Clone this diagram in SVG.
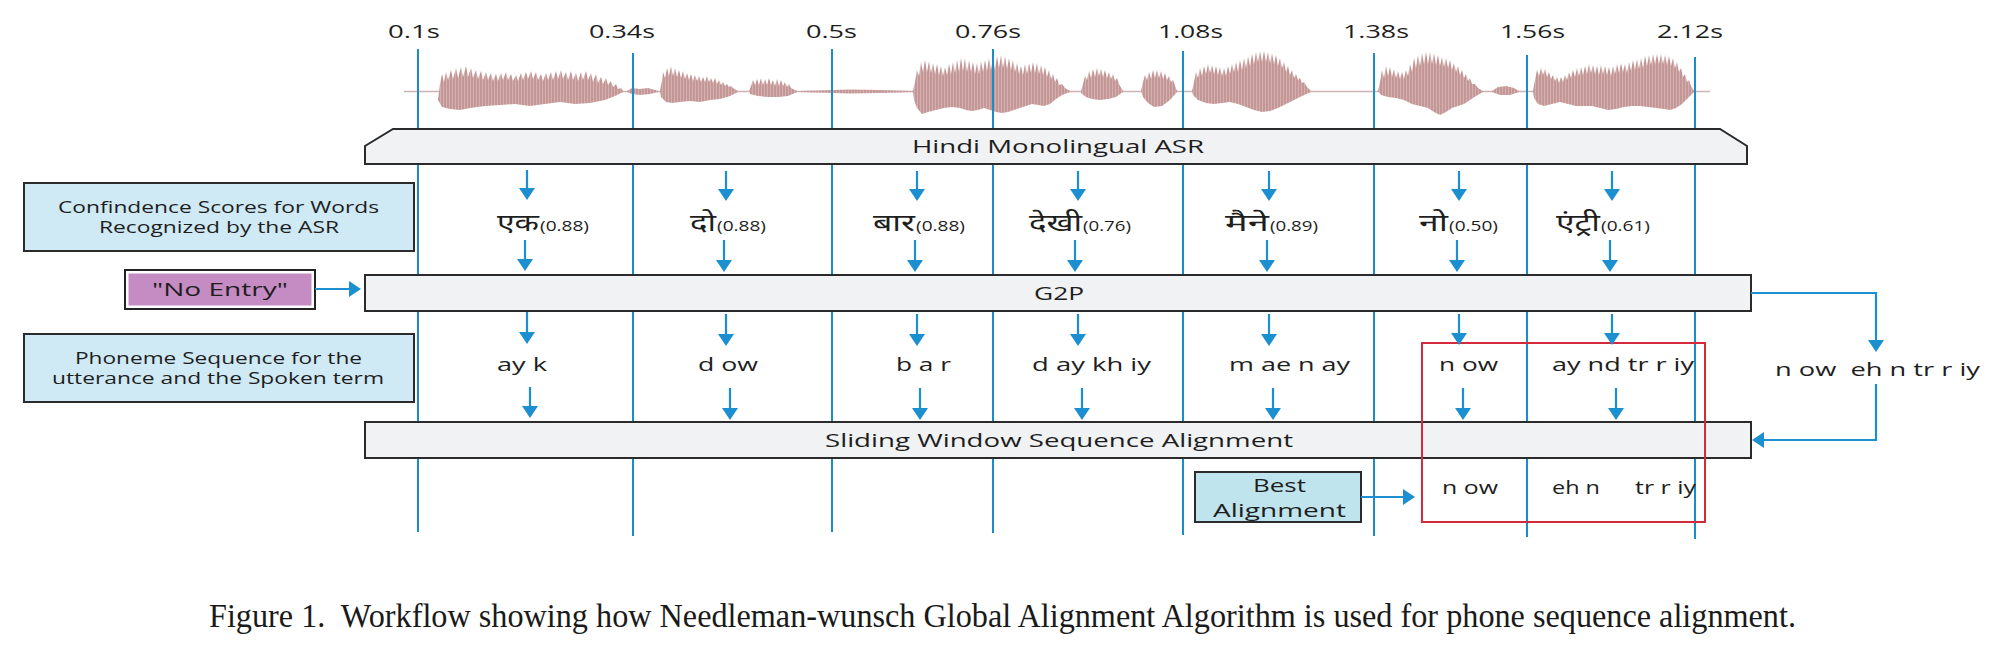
<svg xmlns="http://www.w3.org/2000/svg" width="2002" height="654" viewBox="0 0 2002 654">
<style>
.t{font-family:"Open Sans","Noto Sans",sans-serif;fill:#1e1e1e;}
.dv{font-family:"Noto Sans Devanagari","Noto Sans","Lohit Devanagari",sans-serif;fill:#1e1e1e;font-size:24px;}
.sc{font-size:14px;}
.ph{font-size:19px;}
.tm{font-size:19px;}
.vl{stroke:#1a8cc8;stroke-width:2;fill:none;}
.ar{stroke:#1b8fd0;stroke-width:2.2;fill:none;marker-end:url(#ah);}
.bar{fill:#f1f2f4;stroke:#2b2b2b;stroke-width:2;}
.lb{fill:#cfe9f5;stroke:#2b2b2b;stroke-width:2;}
.wv{fill:url(#wstripe);}
.cap{font-family:"Liberation Serif","Times New Roman",serif;font-size:33px;fill:#1a1a1a;}
</style>
<defs>
<marker id="ah" viewBox="0 0 12 16" refX="2" refY="8" markerWidth="12" markerHeight="16" markerUnits="userSpaceOnUse" orient="auto">
<path d="M0,0 L12,8 L0,16 z" fill="#1b8fd0"/>
</marker>
<pattern id="wstripe" x="0" y="0" width="3" height="10" patternUnits="userSpaceOnUse">
<rect width="3" height="10" fill="#c49696"/>
<rect x="2" width="1" height="10" fill="#d3b1b1"/>
</pattern>
</defs>
<rect width="2002" height="654" fill="#ffffff"/>

<g id="waveform">
<line x1="404" y1="91.5" x2="1710" y2="91.5" stroke="#cdb3b3" stroke-width="1.5"/>
<path class="wv" d="M440,84 442,74 444,82 446,72 448,80 451,70 453,79 456,68 458,78 461,67 463,77 466,66 468,77 471,68 473,78 476,70 478,79 481,71 483,80 486,72 488,80 491,73 493,81 496,74 498,81 501,73 503,80 506,72 508,80 511,74 513,81 516,75 518,81 521,73 523,80 526,72 528,79 531,71 533,79 536,72 538,80 541,74 543,81 546,73 548,80 551,72 553,80 556,71 558,79 561,70 563,79 566,72 568,80 571,71 573,80 576,73 578,81 581,72 583,80 586,71 588,80 591,73 593,82 596,74 598,83 601,77 603,84 606,78 608,85 611,81 613,87 616,84 618,89 621,88 623,91 L623,92 615,96 605,100 590,103 575,104 560,102 545,104 530,106 515,104 500,105 485,106 470,108 460,110 450,109 442,107 438,100 z"/>
<path class="wv" d="M627,91 L632,88 640,89 648,88 655,90 658,91 L658,92 650,94 640,95 632,94 627,92 z"/>
<path class="wv" d="M660,91 662,80 663,72 665,78 667,68 669,76 671,66 673,76 675,68 677,77 679,70 681,78 683,71 685,79 687,73 689,80 691,74 693,81 695,75 697,81 699,76 701,82 703,77 705,82 707,76 709,82 711,78 713,83 715,78 717,84 719,80 721,85 723,82 725,86 727,84 729,87 731,86 733,88 738,91 L738,92 730,96 720,99 710,100 700,102 690,101 680,102 672,103 666,102 661,97 z"/>
<path class="wv" d="M749,91 751,86 753,80 755,85 757,79 759,85 761,78 763,85 765,79 767,85 769,78 771,85 773,80 775,86 777,79 779,86 781,80 783,86 785,82 787,87 789,84 791,88 797,91 L797,92 788,96 778,97 768,97 758,96 750,94 z"/>
<path class="wv" d="M800,91 L850,89.5 880,90 913,91 L913,92 880,93 850,93.5 800,92 z"/>
<path class="wv" d="M913,91 915,82 917,70 919,76 921,62 923,72 925,60 927,72 929,61 931,73 933,63 935,74 937,64 939,75 941,66 943,76 945,67 947,75 949,64 951,74 953,62 955,73 957,60 959,72 961,58 963,71 965,58 967,72 969,60 971,72 973,62 975,74 977,63 979,74 981,61 983,72 985,60 987,71 989,58 991,70 993,57 995,70 997,56 999,68 1001,55 1003,68 1005,56 1007,69 1009,58 1011,70 1013,60 1015,72 1017,63 1019,74 1021,66 1023,75 1025,64 1027,74 1029,63 1031,73 1033,62 1035,73 1037,63 1039,74 1041,65 1043,75 1045,67 1047,77 1049,70 1051,79 1053,74 1055,82 1057,78 1059,85 1062,84 1065,88 1070,91 L1070,92 1062,95 1056,99 1050,104 1044,106 1038,105 1032,104 1026,106 1020,108 1014,110 1008,112 1002,113 996,112 990,110 984,108 978,110 972,111 966,110 960,108 952,107 944,108 936,110 928,112 922,114 917,108 914,100 913,92 z"/>
<path class="wv" d="M1081,91 1083,84 1085,76 1087,80 1089,71 1091,78 1093,69 1095,77 1097,68 1099,76 1101,69 1103,77 1105,70 1107,78 1109,72 1111,79 1113,74 1115,81 1117,78 1119,84 1123,91 L1123,92 1116,97 1108,99 1100,100 1092,99 1086,97 1081,93 z"/>
<path class="wv" d="M1141,91 1143,82 1145,75 1147,80 1149,72 1151,79 1153,70 1155,78 1157,70 1159,78 1161,71 1163,79 1165,73 1167,80 1169,76 1171,82 1173,80 1177,91 L1177,92 1170,100 1162,106 1154,107 1148,103 1143,97 z"/>
<path class="wv" d="M1192,91 1194,82 1196,72 1198,78 1200,68 1202,76 1204,66 1206,74 1208,64 1210,73 1212,65 1214,74 1216,66 1218,75 1220,67 1222,76 1224,68 1226,76 1228,66 1230,74 1232,64 1234,72 1236,62 1238,72 1240,60 1242,70 1244,58 1246,68 1248,56 1250,66 1252,54 1254,64 1256,52 1258,62 1260,51 1262,62 1264,51 1266,62 1268,52 1270,63 1272,53 1274,64 1276,55 1278,66 1280,58 1282,68 1284,62 1286,72 1288,66 1290,75 1292,70 1294,78 1296,74 1298,80 1300,78 1302,83 1304,82 1307,87 1311,91 L1311,92 1302,96 1294,100 1286,104 1278,108 1270,111 1262,112 1254,110 1246,107 1238,104 1230,102 1222,103 1214,104 1206,103 1198,100 1193,95 z"/>
<path class="wv" d="M1378,91 1380,82 1382,70 1384,78 1386,66 1388,76 1390,67 1392,77 1394,69 1396,78 1398,71 1400,79 1402,72 1404,79 1406,70 1408,76 1410,64 1412,72 1414,58 1416,68 1418,55 1420,66 1422,53 1424,64 1426,52 1428,64 1430,52 1432,64 1434,53 1436,65 1438,55 1440,66 1442,57 1444,67 1446,58 1448,68 1450,60 1452,70 1454,63 1456,72 1458,66 1460,75 1462,70 1464,78 1466,74 1468,81 1470,78 1472,84 1475,84 1478,88 1483,91 L1483,92 1476,96 1470,100 1464,104 1458,106 1452,108 1446,112 1440,115 1434,112 1428,108 1420,106 1412,104 1404,100 1396,98 1388,97 1381,95 z"/>
<path class="wv" d="M1492,91 L1498,87 1506,86 1514,88 1519,91 L1519,92 1510,95 1500,95 1492,92 z"/>
<path class="wv" d="M1533,91 1535,80 1537,70 1539,76 1541,68 1543,75 1545,69 1547,77 1549,72 1551,79 1553,75 1555,81 1557,77 1559,83 1561,77 1563,82 1565,75 1567,80 1569,72 1571,78 1573,70 1575,77 1577,68 1579,76 1581,67 1583,75 1585,66 1587,74 1589,64 1591,73 1593,65 1595,74 1597,66 1599,75 1601,65 1603,74 1605,66 1607,75 1609,67 1611,76 1613,66 1615,74 1617,64 1619,73 1621,63 1623,72 1625,64 1627,73 1629,62 1631,71 1633,60 1635,70 1637,59 1639,69 1641,58 1643,68 1645,56 1647,66 1649,55 1651,65 1653,54 1655,64 1657,54 1659,64 1661,54 1663,64 1665,55 1667,65 1669,56 1671,66 1673,58 1675,68 1677,62 1679,72 1681,68 1683,77 1685,74 1687,82 1689,80 1691,86 1694,91 L1694,92 1688,98 1682,104 1676,108 1670,110 1664,109 1656,108 1648,107 1640,106 1632,106 1624,107 1616,109 1608,110 1600,108 1592,106 1584,106 1576,106 1568,104 1560,102 1552,104 1544,106 1538,104 1534,98 z"/>
</g>

<g id="timeline">
<line class="vl" x1="418" y1="49" x2="418" y2="532"/>
<line class="vl" x1="633" y1="53" x2="633" y2="536"/>
<line class="vl" x1="832" y1="49" x2="832" y2="532"/>
<line class="vl" x1="993" y1="49" x2="993" y2="533"/>
<line class="vl" x1="1183" y1="51" x2="1183" y2="535"/>
<line class="vl" x1="1374" y1="53" x2="1374" y2="536"/>
<line class="vl" x1="1527" y1="55" x2="1527" y2="537"/>
<line class="vl" x1="1695" y1="57" x2="1695" y2="539"/>
<text class="t tm" x="388" y="38" textLength="52" lengthAdjust="spacingAndGlyphs">0.1s</text>
<text class="t tm" x="589" y="38" textLength="66" lengthAdjust="spacingAndGlyphs">0.34s</text>
<text class="t tm" x="806" y="38" textLength="51" lengthAdjust="spacingAndGlyphs">0.5s</text>
<text class="t tm" x="955" y="38" textLength="66" lengthAdjust="spacingAndGlyphs">0.76s</text>
<text class="t tm" x="1158" y="38" textLength="65" lengthAdjust="spacingAndGlyphs">1.08s</text>
<text class="t tm" x="1343" y="38" textLength="66" lengthAdjust="spacingAndGlyphs">1.38s</text>
<text class="t tm" x="1500" y="38" textLength="65" lengthAdjust="spacingAndGlyphs">1.56s</text>
<text class="t tm" x="1657" y="38" textLength="66" lengthAdjust="spacingAndGlyphs">2.12s</text>
</g>

<g id="asr">
<path class="bar" d="M393,129 L1720,129 L1747,146 L1747,164 L365,164 L365,146 z"/>
<text class="t" x="912" y="153" font-size="19" textLength="292" lengthAdjust="spacingAndGlyphs">Hindi Monolingual ASR</text>
</g>

<g id="g2p">
<rect class="bar" x="365" y="275" width="1386" height="36"/>
<text class="t" x="1034" y="300" font-size="19" textLength="50" lengthAdjust="spacingAndGlyphs">G2P</text>
</g>

<g id="swsa">
<rect class="bar" x="365" y="422" width="1386" height="36"/>
<text class="t" x="825" y="447" font-size="19" textLength="468" lengthAdjust="spacingAndGlyphs">Sliding Window Sequence Alignment</text>
</g>

<g id="confidence-label">
<rect class="lb" x="24" y="183" width="390" height="68"/>
<text class="t" x="58" y="213" font-size="17" textLength="321" lengthAdjust="spacingAndGlyphs">Confindence Scores for Words</text>
<text class="t" x="99" y="233" font-size="17" textLength="240" lengthAdjust="spacingAndGlyphs">Recognized by the ASR</text>
</g>

<g id="phoneme-label">
<rect class="lb" x="24" y="334" width="390" height="68"/>
<text class="t" x="75" y="364" font-size="17" textLength="287" lengthAdjust="spacingAndGlyphs">Phoneme Sequence for the</text>
<text class="t" x="52" y="384" font-size="17" textLength="332" lengthAdjust="spacingAndGlyphs">utterance and the Spoken term</text>
</g>

<g id="no-entry">
<rect x="125" y="270" width="190" height="39" fill="#ffffff" stroke="#222" stroke-width="2"/>
<rect x="128.5" y="273.5" width="183" height="32" fill="#c58bc3"/>
<text class="t" x="152" y="296" font-size="19" textLength="136" lengthAdjust="spacingAndGlyphs">"No Entry"</text>
</g>

<g id="words">
<text class="dv" x="497" y="231" textLength="42" lengthAdjust="spacingAndGlyphs">एक</text>
<text class="t sc" x="540" y="231" textLength="49" lengthAdjust="spacingAndGlyphs">(0.88)</text>
<text class="dv" x="690" y="231" textLength="26" lengthAdjust="spacingAndGlyphs">दो</text>
<text class="t sc" x="717" y="231" textLength="49" lengthAdjust="spacingAndGlyphs">(0.88)</text>
<text class="dv" x="873" y="231" textLength="42" lengthAdjust="spacingAndGlyphs">बार</text>
<text class="t sc" x="916" y="231" textLength="49" lengthAdjust="spacingAndGlyphs">(0.88)</text>
<text class="dv" x="1029" y="231" textLength="53" lengthAdjust="spacingAndGlyphs">देखी</text>
<text class="t sc" x="1083" y="231" textLength="48" lengthAdjust="spacingAndGlyphs">(0.76)</text>
<text class="dv" x="1225" y="231" textLength="44" lengthAdjust="spacingAndGlyphs">मैने</text>
<text class="t sc" x="1270" y="231" textLength="48" lengthAdjust="spacingAndGlyphs">(0.89)</text>
<text class="dv" x="1419" y="231" textLength="29" lengthAdjust="spacingAndGlyphs">नो</text>
<text class="t sc" x="1449" y="231" textLength="49" lengthAdjust="spacingAndGlyphs">(0.50)</text>
<text class="dv" x="1556" y="231" textLength="44" lengthAdjust="spacingAndGlyphs">एंट्री</text>
<text class="t sc" x="1601" y="231" textLength="49" lengthAdjust="spacingAndGlyphs">(0.61)</text>
</g>

<g id="phonemes">
<text class="t ph" x="497" y="371" textLength="50" lengthAdjust="spacingAndGlyphs">ay k</text>
<text class="t ph" x="698" y="371" textLength="60" lengthAdjust="spacingAndGlyphs">d ow</text>
<text class="t ph" x="896" y="371" textLength="55" lengthAdjust="spacingAndGlyphs">b a r</text>
<text class="t ph" x="1032" y="371" textLength="119" lengthAdjust="spacingAndGlyphs">d ay kh iy</text>
<text class="t ph" x="1229" y="371" textLength="121" lengthAdjust="spacingAndGlyphs">m ae n ay</text>
<text class="t ph" x="1439" y="371" textLength="59" lengthAdjust="spacingAndGlyphs">n ow</text>
<text class="t ph" x="1552" y="371" textLength="142" lengthAdjust="spacingAndGlyphs">ay nd tr r iy</text>
<text class="t ph" x="1775" y="376" textLength="205" lengthAdjust="spacingAndGlyphs" xml:space="preserve">n ow  eh n tr r iy</text>
</g>

<g id="best-alignment">
<rect x="1195" y="472" width="166" height="50" fill="#bfe4ee" stroke="#2b2b2b" stroke-width="2"/>
<text class="t" x="1253" y="492" font-size="18" textLength="53" lengthAdjust="spacingAndGlyphs">Best</text>
<text class="t" x="1213" y="517" font-size="18" textLength="133" lengthAdjust="spacingAndGlyphs">Alignment</text>
</g>

<g id="alignment-result">
<text class="t ph" x="1442" y="494" textLength="56" lengthAdjust="spacingAndGlyphs">n ow</text>
<text class="t ph" x="1552" y="494" textLength="48" lengthAdjust="spacingAndGlyphs">eh n</text>
<text class="t ph" x="1635" y="494" textLength="61" lengthAdjust="spacingAndGlyphs">tr r iy</text>
<rect x="1422" y="343" width="283" height="179" fill="none" stroke="#d42a3c" stroke-width="2"/>
</g>

<g id="connectors">
<line class="ar" x1="527" y1="170" x2="527" y2="190"/>
<line class="ar" x1="726" y1="171" x2="726" y2="191"/>
<line class="ar" x1="917" y1="171" x2="917" y2="191"/>
<line class="ar" x1="1078" y1="171" x2="1078" y2="191"/>
<line class="ar" x1="1269" y1="171" x2="1269" y2="191"/>
<line class="ar" x1="1459" y1="171" x2="1459" y2="191"/>
<line class="ar" x1="1612" y1="171" x2="1612" y2="191"/>

<line class="ar" x1="525" y1="240" x2="525" y2="261"/>
<line class="ar" x1="724" y1="240" x2="724" y2="262"/>
<line class="ar" x1="915" y1="240" x2="915" y2="262"/>
<line class="ar" x1="1075" y1="240" x2="1075" y2="262"/>
<line class="ar" x1="1267" y1="240" x2="1267" y2="262"/>
<line class="ar" x1="1457" y1="240" x2="1457" y2="262"/>
<line class="ar" x1="1610" y1="240" x2="1610" y2="262"/>

<line class="ar" x1="527" y1="312" x2="527" y2="334"/>
<line class="ar" x1="726" y1="314" x2="726" y2="336"/>
<line class="ar" x1="917" y1="314" x2="917" y2="336"/>
<line class="ar" x1="1078" y1="314" x2="1078" y2="336"/>
<line class="ar" x1="1269" y1="314" x2="1269" y2="336"/>
<line class="ar" x1="1459" y1="314" x2="1459" y2="335"/>
<line class="ar" x1="1612" y1="314" x2="1612" y2="335"/>

<line class="ar" x1="530" y1="387" x2="530" y2="408"/>
<line class="ar" x1="730" y1="388" x2="730" y2="410"/>
<line class="ar" x1="920" y1="388" x2="920" y2="410"/>
<line class="ar" x1="1082" y1="388" x2="1082" y2="410"/>
<line class="ar" x1="1273" y1="388" x2="1273" y2="410"/>
<line class="ar" x1="1463" y1="388" x2="1463" y2="410"/>
<line class="ar" x1="1616" y1="388" x2="1616" y2="410"/>

<line class="ar" x1="315" y1="289" x2="351" y2="289"/>
<path class="ar" d="M1751,293 L1876,293 L1876,342"/>
<path class="ar" d="M1876,384 L1876,440 L1762,440"/>
<line class="ar" x1="1361" y1="497" x2="1405" y2="497"/>
</g>

<g id="caption">
<text class="cap" x="209" y="627" textLength="1587" lengthAdjust="spacingAndGlyphs" xml:space="preserve">Figure 1.  Workflow showing how Needleman-wunsch Global Alignment Algorithm is used for phone sequence alignment.</text>
</g>
</svg>
